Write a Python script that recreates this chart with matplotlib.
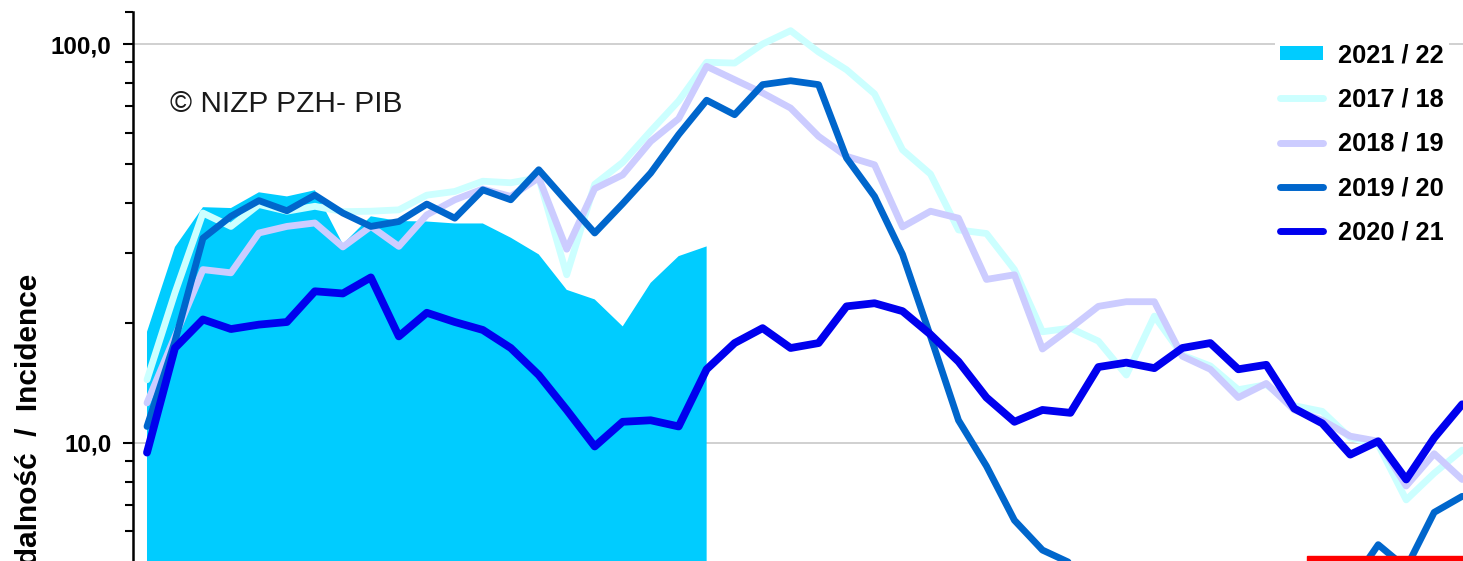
import matplotlib
matplotlib.use("Agg")
import matplotlib.pyplot as plt
from matplotlib.patches import Patch, Rectangle
from matplotlib.lines import Line2D
from matplotlib.ticker import FixedLocator, FixedFormatter, NullFormatter

plt.rcParams['font.family'] = ['Liberation Sans', 'DejaVu Sans']

# ---- data (weekly incidence, log scale) ----
s2122 = [19.0, 31.0, 39.0, 38.8, 42.5, 41.5, 43.0, 31.5, 37.0, 36.0, 35.9,
         35.5, 35.5, 32.7, 29.7, 24.2, 22.9, 19.6, 25.2, 29.4, 31.1]
s1718 = [14.4, 23.8, 37.7, 34.9, 39.6, 38.1, 39.2, 38.0, 38.1, 38.4, 41.8,
         42.7, 45.3, 44.9, 46.2, 26.4, 44.5, 50.5, 60.5, 72.0, 90.0, 89.6,
         100.0, 108.0, 95.5, 86.2, 75.0, 54.3, 47.2, 34.2, 33.5, 27.2, 19.0,
         19.4, 18.0, 14.8, 20.8, 16.6, 15.6, 13.6, 14.0, 12.4, 12.0, 10.3,
         9.9, 7.2, 8.4, 9.6]
s1819 = [12.6, 18.5, 27.2, 26.7, 33.6, 34.9, 35.6, 31.0, 34.9, 31.1, 37.3,
         40.7, 43.3, 41.5, 46.2, 30.6, 43.4, 47.0, 57.0, 65.0, 87.9, 81.4,
         75.4, 69.1, 58.7, 52.3, 49.8, 34.8, 38.1, 36.6, 25.7, 26.4, 17.2,
         19.4, 22.0, 22.6, 22.6, 16.5, 15.3, 13.0, 14.1, 12.1, 11.4, 10.4,
         10.1, 7.8, 9.4, 8.1]
s1920 = [11.0, 18.0, 32.6, 37.0, 40.5, 38.2, 41.8, 37.7, 34.9, 35.9, 39.7,
         36.6, 43.1, 40.7, 48.4, 40.3, 33.6, 39.8, 47.5, 59.3, 72.3, 66.5,
         79.1, 80.9, 79.1, 51.8, 41.5, 29.7, 18.5, 11.4, 8.75, 6.4, 5.39,
         5.0, 4.7, 4.5, 4.4, 4.3, 4.2, 4.2, 4.3, 4.3, 4.4, 4.4, 5.56, 4.86,
         6.7, 7.35]
s2021 = [9.46, 17.3, 20.4, 19.3, 19.8, 20.1, 24.0, 23.7, 26.0, 18.5, 21.2,
         20.1, 19.2, 17.3, 14.8, 12.1, 9.8, 11.3, 11.4, 11.0, 15.3, 17.8,
         19.4, 17.3, 17.8, 22.0, 22.4, 21.4, 18.7, 16.0, 13.0, 11.3, 12.1,
         11.9, 15.5, 15.9, 15.4, 17.3, 17.8, 15.3, 15.7, 12.2, 11.2, 9.35,
         10.1, 8.1, 10.3, 12.5]
labels = ['2021 / 22', '2017 / 18', '2018 / 19', '2019 / 20', '2020 / 21']
ytick_vals = [10, 100]
ytick_labels = ['10,0', '100,0']
copyright_text = '© NIZP PZH- PIB'
ylabel_text = 'Zapadalność  /  Incidence'

W, H = 1463, 561
fig = plt.figure(figsize=(W / 100, H / 100), dpi=100)
ax = fig.add_axes([132.5 / W, 0, 1 - 132.5 / W, 1 - 12 / H])

x2122 = list(range(len(s2122)))
xall = list(range(len(s2021)))

ax.fill_between(x2122, s2122, 1e-3, color='#00CCFF', linewidth=0, zorder=2)
kw = dict(solid_capstyle='round', solid_joinstyle='round')
ax.plot(xall, s1718, color='#CCFFFF', lw=4.9, zorder=3, **kw)
ax.plot(xall, s1819, color='#CCCCFF', lw=4.9, zorder=4, **kw)
ax.plot(xall, s1920, color='#0066CC', lw=4.9, zorder=5, **kw)
ax.plot(xall, s2021, color='#0000EE', lw=5.6, zorder=6, **kw)

ax.set_yscale('log')
ax.set_ylim(5.06, 120.3)
ax.set_xlim(-0.518, 47.03)

ax.yaxis.set_major_locator(FixedLocator(ytick_vals))
ax.yaxis.set_major_formatter(FixedFormatter(ytick_labels))
ax.yaxis.set_minor_locator(FixedLocator([6, 7, 8, 9, 20, 30, 40, 50, 60, 70, 80, 90, 120]))
ax.yaxis.set_minor_formatter(NullFormatter())
ax.tick_params(axis='y', which='major', length=7.5, width=1.5, pad=7.6,
               labelsize=17.5, direction='out')
ax.tick_params(axis='y', which='minor', length=5.5, width=1.5, direction='out')
for t in ax.get_yticklabels():
    t.set_fontweight('bold')
ax.set_xticks([])

for s in ['top', 'right', 'bottom']:
    ax.spines[s].set_visible(False)
ax.spines['left'].set_linewidth(1.8)

ax.grid(axis='y', which='major', color='#C8C8C8', lw=1.2)
ax.set_axisbelow(True)

handles = [Patch(facecolor='#00CCFF', edgecolor='none'),
           Line2D([], [], color='#CCFFFF', lw=5.0, solid_capstyle='round'),
           Line2D([], [], color='#CCCCFF', lw=5.0, solid_capstyle='round'),
           Line2D([], [], color='#0066CC', lw=5.0, solid_capstyle='round'),
           Line2D([], [], color='#0000EE', lw=5.0, solid_capstyle='round')]
leg = ax.legend(handles, labels, loc='upper left',
                bbox_to_anchor=(1275 / W, 1 - 38 / H), bbox_transform=fig.transFigure,
                frameon=True, facecolor='white', edgecolor='none', framealpha=1,
                borderpad=0.2, borderaxespad=0, handlelength=1.68, handleheight=0.52,
                handletextpad=0.6, labelspacing=0.8,
                prop={'size': 18.3, 'weight': 'bold'})
leg.set_zorder(10)

fig.text(170 / W, 1 - 112 / H, copyright_text, fontsize=21.5, ha='left',
         va='baseline', color='#1a1a1a')
fig.text(29 / W, 1 - 274 / H, ylabel_text, rotation=90, ha='center', va='top',
         fontsize=21.5, fontweight='bold')

fig.patches.append(Rectangle((1307 / W, 0), (W - 1307) / W, 5 / H,
                             transform=fig.transFigure, color='#FF0000'))

fig.savefig('out.png', dpi=100)
